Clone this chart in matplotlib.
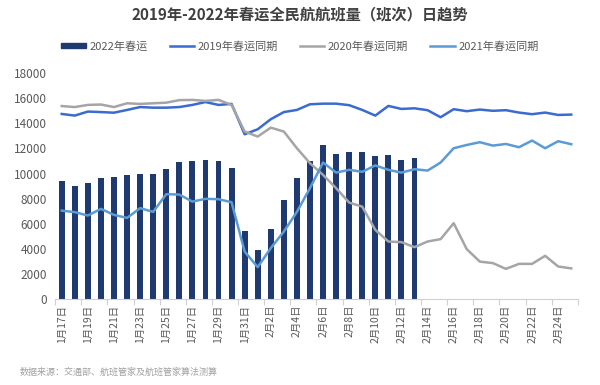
import matplotlib
matplotlib.use("Agg")
import matplotlib.pyplot as plt
from matplotlib.patches import Patch
from matplotlib.lines import Line2D
import numpy as np

plt.rcParams['font.family'] = ['Noto Sans CJK SC', 'DejaVu Sans']

dates = [f"1月{d}日" for d in range(17, 32)] + [f"2月{d}日" for d in range(1, 26)]

bars_2022 = [9400, 9000, 9250, 9650, 9700, 9850, 9950, 10000, 10400, 10950,
             11000, 11050, 11000, 10450, 5400, 3900, 5570, 7880, 9680, 11010,
             12280, 11590, 11730, 11730, 11430, 11490, 11090, 11220]

line_2019 = [14750, 14620, 14940, 14900, 14850, 15070, 15300, 15250, 15250, 15300,
             15470, 15700, 15470, 15550, 13130, 13530, 14330, 14900, 15070, 15520,
             15570, 15570, 15450, 15070, 14620, 15390, 15150, 15200, 15050, 14490,
             15130, 14970, 15100, 15000, 15050, 14860, 14730, 14860, 14670, 14700]

line_2020 = [15380, 15300, 15470, 15500, 15300, 15600, 15550, 15600, 15650, 15850,
             15870, 15790, 15870, 15470, 13350, 12950, 13660, 13350, 12020, 10830,
             9900, 8840, 7690, 7370, 5520, 4590, 4540, 4140, 4590, 4780,
             6050, 3980, 2990, 2870, 2410, 2810, 2810, 3450, 2600, 2450]

line_2021 = [7050, 6930, 6660, 7190, 6710, 6470, 7250, 6950, 8360, 8330,
             7770, 7990, 7960, 7720, 3790, 2550, 4060, 5380, 6950, 8840,
             10880, 10080, 10300, 10140, 10650, 10300, 10080, 10350, 10240, 10880,
             12020, 12280, 12500, 12230, 12360, 12100, 12630, 12020, 12580, 12340]

c_bar = '#1F3A70'
c_2019 = '#3A6BD0'
c_2020 = '#A5A5A5'
c_2021 = '#5B9BD5'

fig = plt.figure(figsize=(6, 3.85), dpi=100)
ax = fig.add_axes([0.092, 0.223, 0.871, 0.587])

x = np.arange(len(dates))
ax.bar(x[:len(bars_2022)], bars_2022, width=0.45, color=c_bar, zorder=2)
ax.plot(x, line_2019, color=c_2019, lw=1.8, zorder=3)
ax.plot(x, line_2020, color=c_2020, lw=1.8, zorder=3)
ax.plot(x, line_2021, color=c_2021, lw=1.8, zorder=3)

ax.set_xlim(-0.5, len(dates) - 0.5)
ax.set_ylim(0, 18000)
ax.set_yticks(range(0, 18001, 2000))
ax.tick_params(axis='y', length=0, labelsize=8.5, labelcolor='#595959', pad=6)

ax.set_xticks(x[::2])
ax.set_xticklabels(dates[::2], rotation=90, fontsize=7.5, color='#595959')
ax.tick_params(axis='x', length=0, pad=4)
ax.set_xticks(np.arange(-0.5, len(dates), 2), minor=True)
ax.tick_params(axis='x', which='minor', length=4, color='#D0D0D0', width=0.8)

for s in ['top', 'right', 'left']:
    ax.spines[s].set_visible(False)
ax.spines['bottom'].set_color('#D0D0D0')

fig.text(0.5, 0.963, '2019年-2022年春运全民航航班量（班次）日趋势', ha='center', va='center',
         fontsize=11, fontweight='bold', color='#404040')

handles = [Patch(color=c_bar, label='2022年春运'),
           Line2D([], [], color=c_2019, lw=1.8, label='2019年春运同期'),
           Line2D([], [], color=c_2020, lw=1.8, label='2020年春运同期'),
           Line2D([], [], color=c_2021, lw=1.8, label='2021年春运同期')]
leg = fig.legend(handles=handles, loc='center', bbox_to_anchor=(0.5, 0.88), ncol=4,
                 frameon=False, fontsize=8, handlelength=2.2, handleheight=0.4,
                 columnspacing=2.0, handletextpad=0.3)
for t in leg.get_texts():
    t.set_color('#595959')

fig.text(0.033, 0.033, '数据来源：交通部、航班管家及航班管家算法测算', ha='left', va='center',
         fontsize=6.5, color='#A0A0A0')

fig.savefig('out.png', dpi=100)
